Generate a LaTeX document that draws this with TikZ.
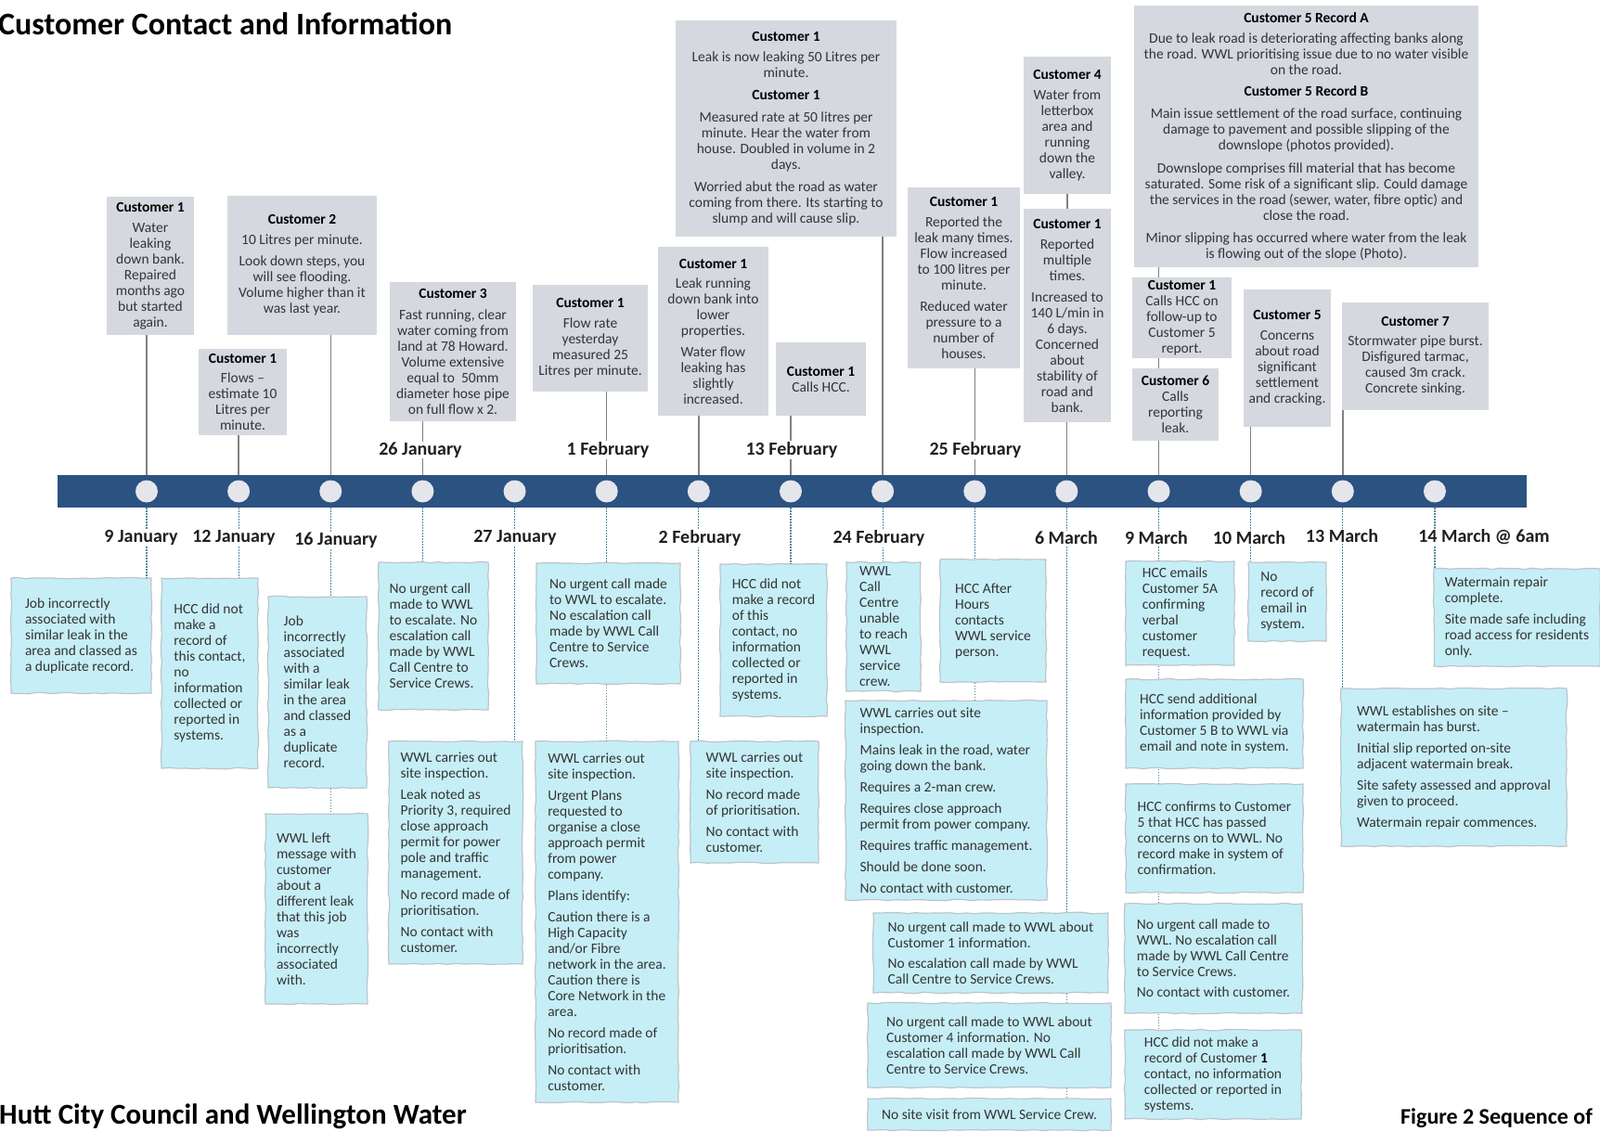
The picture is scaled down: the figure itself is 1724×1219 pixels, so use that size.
\documentclass[tikz,border=0pt]{standalone}
\usepackage{fontspec}
\setmainfont{Carlito}
\usetikzlibrary{decorations.pathmorphing}
\definecolor{barblue}{RGB}{44,82,130}
\definecolor{dotfill}{RGB}{228,230,236}
\definecolor{gfill}{RGB}{213,216,223}
\definecolor{bfill}{RGB}{198,238,247}
\definecolor{bline}{RGB}{188,196,202}
\definecolor{txt}{RGB}{52,52,52}
\definecolor{tline}{RGB}{128,128,128}
\definecolor{dline}{RGB}{80,135,160}
\newcommand\bxf{\fontsize{15.5}{17}\selectfont}
\newcommand\chd[1]{\textcolor{black}{\bfseries #1}}
\begin{document}
\begin{tikzpicture}[x=1pt,y=-1pt,
  gbox/.style={fill=gfill, text=txt, font=\bxf, align=center, inner sep=0pt},
  bbox/.style={fill=bfill, draw=bline, line width=1.2pt, text=txt, font=\bxf, align=left, inner sep=0pt, decorate, decoration={random steps, segment length=9pt, amplitude=0.7pt}},
  dot/.style={circle, fill=dotfill, minimum size=24pt, inner sep=0pt},
  datelbl/.style={font=\bfseries\fontsize{20}{22}\selectfont, fill=white, inner sep=1pt, text=black!88},
  topline/.style={draw=tline, line width=1.4pt},
  botline/.style={draw=dline, line width=1.1pt, dash pattern=on 1.5pt off 1.5pt},
  ttl/.style={font=\bfseries\fontsize{34}{40}\selectfont, anchor=base west, inner sep=0pt, text=black}
]
\fill[white] (0,0) rectangle (1724,1219);
\useasboundingbox (0,0) rectangle (1724,1219);

% titles
\node[ttl] (title) at (-2,37) {Customer Contact and Information};
\node[ttl, font=\bfseries\fontsize{31}{36}\selectfont] (org) at (-1,1211) {Hutt City Council and Wellington Water};
\node[ttl, font=\bfseries\fontsize{24}{28}\selectfont] (fig) at (1509,1211) {Figure 2 Sequence of};

% timeline bar
\node[fill=barblue, minimum width=1583pt, minimum height=35pt, inner sep=0pt] (bar) at (853.5,529.5) {};

% top grey boxes
\node[gbox, minimum width=94pt, minimum height=149pt] (b1) at (162,286.5) {\chd{Customer 1}\\[5pt]Water\\leaking\\down bank.\\Repaired\\months ago\\but started\\again.};
\node[gbox, minimum width=161pt, minimum height=150pt] (b2) at (325.5,286) {\chd{Customer 2}\\[5pt]10 Litres per minute.\\[6pt]Look down steps, you\\will see flooding.\\Volume higher than it\\was last year.};
\node[gbox, minimum width=95pt, minimum height=93pt] (b3) at (261.5,422.5) {\chd{Customer 1}\\[4pt]Flows --\\estimate 10\\Litres per\\minute.};
\node[gbox, minimum width=136pt, minimum height=150pt] (b4) at (488,379) {\chd{Customer 3}\\[6pt]Fast running, clear\\water coming from\\land at 78 Howard.\\Volume extensive\\equal to\ \ 50mm\\diameter hose pipe\\on full flow x 2.};
\node[gbox, minimum width=124pt, minimum height=115pt] (b5) at (636,364.5) {\chd{Customer 1}\\[5pt]Flow rate\\yesterday\\measured 25\\Litres per minute.};
\node[gbox, minimum width=238pt, minimum height=233pt] (b6) at (847,138.5) {\chd{Customer 1}\\[5pt]Leak is now leaking 50 Litres per\\minute.\\[7pt]\chd{Customer 1}\\[7pt]Measured rate at 50 litres per\\minute. Hear the water from\\house. Doubled in volume in 2\\days.\\[7pt]Worried abut the road as water\\coming from there. Its starting to\\slump and will cause slip.};
\node[gbox, minimum width=119pt, minimum height=182pt] (b7) at (768.5,357) {\chd{Customer 1}\\[4pt]Leak running\\down bank into\\lower\\properties.\\[6pt]Water flow\\leaking has\\slightly\\increased.};
\node[gbox, minimum width=97pt, minimum height=79pt] (b8) at (884.5,408.5) {\chd{Customer 1}\\Calls HCC.};
\node[gbox, minimum width=121pt, minimum height=195pt] (b9) at (1038.5,299.5) {\chd{Customer 1}\\[5pt]Reported the\\leak many times.\\Flow increased\\to 100 litres per\\minute.\\[6pt]Reduced water\\pressure to a\\number of\\houses.};
\node[gbox, minimum width=94pt, minimum height=148pt] (b10) at (1150,135) {\chd{Customer 4}\\[5pt]Water from\\letterbox\\area and\\running\\down the\\valley.};
\node[gbox, minimum width=94pt, minimum height=230pt] (b11) at (1150,340) {\chd{Customer 1}\\[5pt]Reported\\multiple\\times.\\[6pt]Increased to\\140 L/min in\\6 days.\\Concerned\\about\\stability of\\road and\\bank.};
\node[gbox, minimum width=371pt, minimum height=282pt] (b12) at (1407.5,147) {\chd{Customer 5 Record A}\\[5pt]Due to leak road is deteriorating affecting banks along\\the road. WWL prioritising issue due to no water visible\\on the road.\\[6pt]\chd{Customer 5 Record B}\\[7pt]Main issue settlement of the road surface, continuing\\damage to pavement and possible slipping of the\\downslope (photos provided).\\[8pt]Downslope comprises fill material that has become\\saturated. Some risk of a significant slip. Could damage\\the services in the road (sewer, water, fibre optic) and\\close the road.\\[7pt]Minor slipping has occurred where water from the leak\\is flowing out of the slope (Photo).};
\node[gbox, minimum width=107pt, minimum height=87pt] (b13) at (1273.5,342.5) {\chd{Customer 1}\\Calls HCC on\\follow-up to\\Customer 5\\report.};
\node[gbox, minimum width=93pt, minimum height=78pt] (b14) at (1266.5,436) {\chd{Customer 6}\\Calls\\reporting\\leak.};
\node[gbox, minimum width=94pt, minimum height=148pt] (b15) at (1387,386) {\chd{Customer 5}\\[5pt]Concerns\\about road\\significant\\settlement\\and cracking.};
\node[gbox, minimum width=158pt, minimum height=116pt] (b16) at (1525,384) {\chd{Customer 7}\\[4pt]Stormwater pipe burst.\\Disfigured tarmac,\\caused 3m crack.\\Concrete sinking.};

% bottom blue boxes
\node[bbox, minimum width=151pt, minimum height=124pt] (l1) at (87.5,685) {Job incorrectly\\associated with\\similar leak in the\\area and classed as\\a duplicate record.};
\node[bbox, minimum width=104pt, minimum height=205pt] (l2) at (226,725.5) {HCC did not\\make a\\record of\\this contact,\\no\\information\\collected or\\reported in\\systems.};
\node[bbox, minimum width=106pt, minimum height=206pt] (l3) at (342,746) {Job\\incorrectly\\associated\\with a\\similar leak\\in the area\\and classed\\as a\\duplicate\\record.};
\node[bbox, minimum width=110pt, minimum height=205pt] (l4) at (341,979.5) {WWL left\\message with\\customer\\about a\\different leak\\that this job\\was\\incorrectly\\associated\\with.};
\node[bbox, minimum width=118pt, minimum height=159pt] (l5) at (467,685.5) {No urgent call\\made to WWL\\to escalate. No\\escalation call\\made by WWL\\Call Centre to\\Service Crews.};
\node[bbox, minimum width=144pt, minimum height=240pt] (l6) at (491,919) {WWL carries out\\site inspection.\\[6pt]Leak noted as\\Priority 3, required\\close approach\\permit for power\\pole and traffic\\management.\\[6pt]No record made of\\prioritisation.\\[6pt]No contact with\\customer.};
\node[bbox, minimum width=155pt, minimum height=130pt] (l7) at (655.5,672) {No urgent call made\\to WWL to escalate.\\No escalation call\\made by WWL Call\\Centre to Service\\Crews.};
\node[bbox, minimum width=154pt, minimum height=389pt] (l8) at (654,993.5) {WWL carries out\\site inspection.\\[6pt]Urgent Plans\\requested to\\organise a close\\approach permit\\from power\\company.\\[6pt]Plans identify:\\[6pt]Caution there is a\\High Capacity\\and/or Fibre\\network in the area.\\Caution there is\\Core Network in the\\area.\\[6pt]No record made of\\prioritisation.\\[6pt]No contact with\\customer.};
\node[bbox, minimum width=115pt, minimum height=164pt] (l9) at (833.5,690) {HCC did not\\make a record\\of this\\contact, no\\information\\collected or\\reported in\\systems.};
\node[bbox, minimum width=138pt, minimum height=131pt] (l10) at (813,864.5) {WWL carries out\\site inspection.\\[6pt]No record made\\of prioritisation.\\[6pt]No contact with\\customer.};
\node[bbox, minimum width=80pt, minimum height=139pt] (l11) at (952,675.5) {WWL\\Call\\Centre\\unable\\to reach\\WWL\\service\\crew.};
\node[bbox, minimum width=114pt, minimum height=132pt] (l12) at (1070,669) {HCC After\\Hours\\contacts\\WWL service\\person.};
\node[bbox, minimum width=217pt, minimum height=215pt] (l13) at (1019.5,862.5) {WWL carries out site\\inspection.\\[6pt]Mains leak in the road, water\\going down the bank.\\[6pt]Requires a 2-man crew.\\[6pt]Requires close approach\\permit from power company.\\[6pt]Requires traffic management.\\[6pt]Should be done soon.\\[6pt]No contact with customer.};
\node[bbox, minimum width=253pt, minimum height=86pt] (l14) at (1067.5,1027) {No urgent call made to WWL about\\Customer 1 information.\\[5pt]No escalation call made by WWL\\Call Centre to Service Crews.};
\node[bbox, minimum width=262pt, minimum height=91pt] (l15) at (1066,1126.5) {No urgent call made to WWL about\\Customer 4 information. No\\escalation call made by WWL Call\\Centre to Service Crews.};
\node[bbox, minimum width=262pt, minimum height=34pt] (l16) at (1066,1201) {No site visit from WWL Service Crew.};
\node[bbox, minimum width=117pt, minimum height=112pt] (l17) at (1271.5,661) {HCC emails\\Customer 5A\\confirming\\verbal\\customer\\request.};
\node[bbox, minimum width=84pt, minimum height=85pt] (l18) at (1387,648.5) {No\\record of\\email in\\system.};
\node[bbox, minimum width=179pt, minimum height=105pt] (l19) at (1634.5,665.5) {Watermain repair\\complete.\\[6pt]Site made safe including\\road access for residents\\only.};
\node[bbox, minimum width=191pt, minimum height=96pt] (l20) at (1308.5,780) {HCC send additional\\information provided by\\Customer 5 B to WWL via\\email and note in system.};
\node[bbox, minimum width=243pt, minimum height=170pt] (l21) at (1566.5,827) {WWL establishes on site --\\watermain has burst.\\[6pt]Initial slip reported on-site\\adjacent watermain break.\\[6pt]Site safety assessed and approval\\given to proceed.\\[6pt]Watermain repair commences.};
\node[bbox, minimum width=191pt, minimum height=117pt] (l22) at (1308.5,903.5) {HCC confirms to Customer\\5 that HCC has passed\\concerns on to WWL. No\\record make in system of\\confirmation.};
\node[bbox, minimum width=191pt, minimum height=118pt] (l23) at (1307.5,1033) {No urgent call made to\\WWL. No escalation call\\made by WWL Call Centre\\to Service Crews.\\[5pt]No contact with customer.};
\node[bbox, minimum width=190pt, minimum height=96pt] (l24) at (1307,1158) {HCC did not make a\\record of Customer \textbf{\textcolor{black}{1}}\\contact, no information\\collected or reported in\\systems.};

% circles
\foreach \i in {0,...,14} \node[dot] (c\i) at ({158+99.14*\i},529.5) {};

% top connectors
\draw[topline] (c0 |- b1.south) -- (c0 |- bar.north);
\draw[topline] (c1 |- b3.south) -- (c1 |- bar.north);
\draw[topline] (c2 |- b2.south) -- (c2 |- bar.north);
\draw[topline] (c3 |- b4.south) -- (c3 |- bar.north);
\draw[topline] (c5 |- b5.south) -- (c5 |- bar.north);
\draw[topline] (c6 |- b7.south) -- (c6 |- bar.north);
\draw[topline] (c7 |- b8.south) -- (c7 |- bar.north);
\draw[topline] (c8 |- b6.south) -- (c8 |- bar.north);
\draw[topline] (c9 |- b9.south) -- (c9 |- bar.north);
\draw[topline] (b10.south) -- (b11.north);
\draw[topline] (c10 |- b11.south) -- (c10 |- bar.north);
\draw[topline] (c11 |- b12.south) -- (c11 |- b13.north);
\draw[topline] (c11 |- b13.south) -- (c11 |- b14.north);
\draw[topline] (c11 |- b14.south) -- (c11 |- bar.north);
\draw[topline] (c12 |- b15.south) -- (c12 |- bar.north);
\draw[topline] (c13 |- b16.south) -- (c13 |- bar.north);

% bottom connectors
\draw[botline] (c0 |- bar.south) -- (c0 |- l1.north);
\draw[botline] (c1 |- bar.south) -- (c1 |- l2.north);
\draw[botline] (c2 |- bar.south) -- (c2 |- l3.north);
\draw[botline] (c2 |- l3.south) -- (c2 |- l4.north);
\draw[botline] (c3 |- bar.south) -- (c3 |- l5.north);
\draw[botline] (c4 |- bar.south) -- (c4 |- l6.north);
\draw[botline] (c5 |- bar.south) -- (c5 |- l7.north);
\draw[botline] (c5 |- l7.south) -- (c5 |- l8.north);
\draw[botline] (c6 |- bar.south) -- (c6 |- l10.north);
\draw[botline] (c7 |- bar.south) -- (c7 |- l9.north);
\draw[botline] (c8 |- bar.south) -- (c8 |- l11.north);
\draw[botline] (c9 |- bar.south) -- (c9 |- l12.north);
\draw[botline] (c9 |- l12.south) -- (c9 |- l13.north);
\draw[botline] (c10 |- bar.south) -- (c10 |- l14.north);
\draw[botline] (c10 |- l14.south) -- (c10 |- l15.north);
\draw[botline] (c10 |- l15.south) -- (c10 |- l16.north);
\draw[botline] (c11 |- bar.south) -- (c11 |- l17.north);
\draw[botline] (c11 |- l17.south) -- (c11 |- l20.north);
\draw[botline] (c11 |- l20.south) -- (c11 |- l22.north);
\draw[botline] (c11 |- l22.south) -- (c11 |- l23.north);
\draw[botline] (c11 |- l23.south) -- (c11 |- l24.north);
\draw[botline] (c12 |- bar.south) -- (c12 |- l18.north);
\draw[botline] (c13 |- bar.south) -- (c13 |- l21.north);
\draw[botline] (c14 |- bar.south) -- (c14 |- l19.north);

% date labels
\node[datelbl] (d1) at (453,485) {26 January};
\node[datelbl] (d2) at (655,485) {1 February};
\node[datelbl] (d3) at (853,485) {13 February};
\node[datelbl] (d4) at (1051,485) {25 February};
\node[datelbl] (e1) at (152,580) {9 January};
\node[datelbl] (e2) at (252,580) {12 January};
\node[datelbl] (e3) at (362,582) {16 January};
\node[datelbl] (e4) at (555,580) {27 January};
\node[datelbl] (e5) at (754,580) {2 February};
\node[datelbl] (e6) at (947,580) {24 February};
\node[datelbl] (e7) at (1149,580) {6 March};
\node[datelbl] (e8) at (1246,580) {9 March};
\node[datelbl] (e9) at (1346,580) {10 March};
\node[datelbl] (e10) at (1446,578) {13 March};
\node[datelbl] (e11) at (1599,579) {14 March @ 6am};
\end{tikzpicture}
\end{document}
